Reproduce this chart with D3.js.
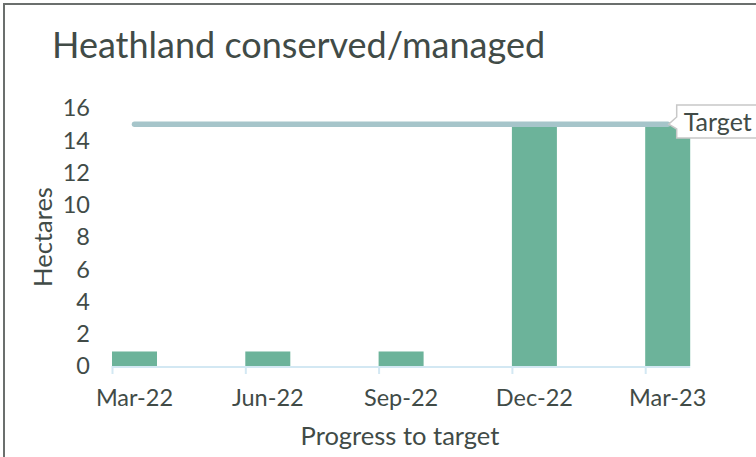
<!DOCTYPE html>
<html>
<head>
<meta charset="utf-8">
<script src="https://cdn.jsdelivr.net/npm/d3@7"></script>
<style>
  body { margin: 0; background: #fff; }
  text { font-family: Lato, "Open Sans", sans-serif; fill: #414b47; }
</style>
</head>
<body>
<svg id="chart"></svg>
<script>
var categories = ["Mar-22", "Jun-22", "Sep-22", "Dec-22", "Mar-23"];
var hectares = [0.9, 0.9, 0.9, 15, 15];
var target = 15;
var yTicks = [0, 2, 4, 6, 8, 10, 12, 14, 16];

var width = 756;
var height = 457;

var svg = d3.select('#chart')
            .attr('width', width)
            .attr('height', height);

// frame
svg.append('path')
   .attr('d', 'M4,' + height + 'V4H' + width)
   .attr('fill', 'none')
   .attr('stroke', '#6b6f6d')
   .attr('stroke-width', 2);

var xScale = d3.scaleBand()
               .domain(categories)
               .range([112, 112 + 133.3 * 5])
               .paddingInner(0)
               .paddingOuter(0);

var barWidth = 45;

var yScale = d3.scaleLinear()
               .domain([0, 16])
               .range([366, 108]);

svg.append('text')
   .attr('x', 52)
   .attr('y', 58)
   .attr('font-size', 36)
   .text('Heathland conserved/managed');

// y labels
svg.append('g').selectAll('text')
   .data(yTicks)
   .enter().append('text')
   .attr('x', 90)
   .attr('y', function(d){ return yScale(d); })
   .attr('dy', '0.36em')
   .attr('text-anchor', 'end')
   .attr('font-size', 23.5)
   .text(function(d){ return d; });

svg.append('text')
   .attr('transform', 'translate(52,' + 237 + ') rotate(-90)')
   .attr('text-anchor', 'middle')
   .attr('font-size', 25.5)
   .text('Hectares');

// bars
svg.append('g').selectAll('rect')
   .data(hectares)
   .enter().append('rect')
   .attr('x', function(d, i){ return xScale(categories[i]); })
   .attr('y', function(d){ return yScale(d); })
   .attr('width', barWidth)
   .attr('height', function(d){ return yScale(0) - yScale(d); })
   .attr('fill', '#6cb39a');

// x axis line + ticks
var axisEnd = xScale(categories[categories.length - 1]) + barWidth;
svg.append('line')
   .attr('x1', xScale(categories[0]))
   .attr('x2', axisEnd)
   .attr('y1', yScale(0) + 1)
   .attr('y2', yScale(0) + 1)
   .attr('stroke', '#d3e8f3')
   .attr('stroke-width', 2);

svg.append('g').selectAll('line')
   .data(categories)
   .enter().append('line')
   .attr('x1', function(d){ return xScale(d) + 0.5; })
   .attr('x2', function(d){ return xScale(d) + 0.5; })
   .attr('y1', yScale(0))
   .attr('y2', yScale(0) + 8)
   .attr('stroke', '#d3e8f3')
   .attr('stroke-width', 2);

svg.append('g').selectAll('text')
   .data(categories)
   .enter().append('text')
   .attr('x', function(d){ return xScale(d) + barWidth / 2; })
   .attr('y', 406)
   .attr('text-anchor', 'middle')
   .attr('font-size', 23.5)
   .text(function(d){ return d; });

svg.append('text')
   .attr('x', 400)
   .attr('y', 445)
   .attr('text-anchor', 'middle')
   .attr('font-size', 25.5)
   .text('Progress to target');

// target line
var tx1 = xScale(categories[0]) + barWidth / 2;
var tx2 = xScale(categories[categories.length - 1]) + barWidth / 2;
var ty = yScale(target);
svg.append('line')
   .attr('x1', tx1)
   .attr('x2', tx2)
   .attr('y1', ty)
   .attr('y2', ty)
   .attr('stroke', '#a6c5ca')
   .attr('stroke-width', 5.5)
   .attr('stroke-linecap', 'round');

// callout
var bx = tx2 + 9, by = 105, bw = 100, bh = 33;
svg.append('path')
   .attr('d', 'M' + bx + ',' + by + 'H' + (bx + bw) + 'V' + (by + bh) + 'H' + bx +
              'V' + (by + 24) + 'L' + (tx2 + 1) + ',' + ty + 'L' + bx + ',' + (by + 12) + 'Z')
   .attr('fill', '#fff')
   .attr('stroke', '#c8c8c8')
   .attr('stroke-width', 1.5);

svg.append('text')
   .attr('x', bx + 7)
   .attr('y', by + 26)
   .attr('font-size', 25)
   .text('Target');
</script>
</body>
</html>
